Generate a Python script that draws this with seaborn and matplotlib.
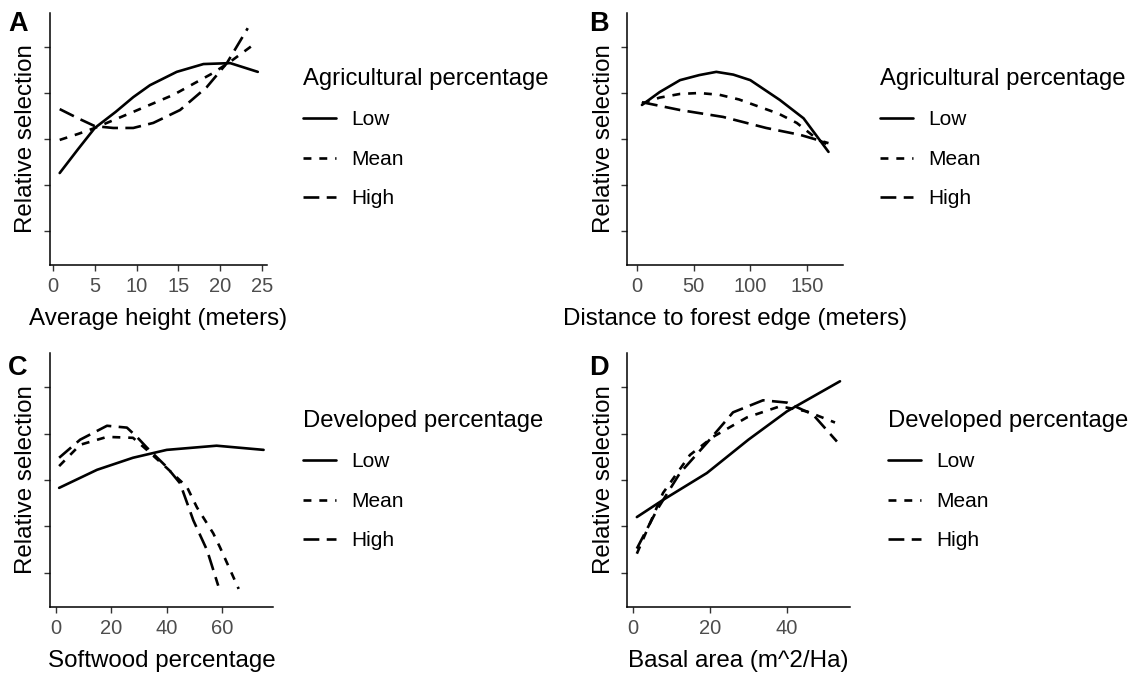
import matplotlib
matplotlib.use("Agg")
import matplotlib.pyplot as plt
import pandas as pd
import seaborn as sns

# panel A: average height (meters)
a_low_x = [0.8, 3, 5.0, 7.5, 9.6, 11.6, 14.8, 18, 21.2, 24.5]
a_low_y = [1.26, 1.78, 2.24, 2.59, 2.91, 3.17, 3.46, 3.63, 3.65, 3.46]
a_mean_x = [0.8, 3, 5, 9.6, 14.4, 19.1, 21.2, 24.2]
a_mean_y = [1.98, 2.11, 2.24, 2.59, 2.96, 3.43, 3.68, 4.08]
a_high_x = [0.8, 3, 5, 7.2, 9.6, 12, 15.2, 18.4, 20.8, 23.3]
a_high_y = [2.65, 2.45, 2.28, 2.24, 2.24, 2.35, 2.63, 3.13, 3.65, 4.41]

# panel B: distance to forest edge (meters)
b_low_x = [4.4, 20, 38, 55, 70, 85, 100, 126, 147, 169]
b_low_y = [2.74, 3.02, 3.28, 3.39, 3.46, 3.40, 3.28, 2.85, 2.45, 1.72]
b_mean_x = [4.4, 20, 38, 55, 73, 90, 108, 125, 141, 160, 169]
b_mean_y = [2.77, 2.90, 2.98, 3.00, 2.96, 2.86, 2.70, 2.55, 2.35, 1.98, 1.87]
b_high_x = [4.4, 38, 76, 114, 144, 169]
b_high_y = [2.80, 2.63, 2.48, 2.24, 2.09, 1.91]

# panel C: softwood percentage
c_low_x = [1.1, 14.8, 27.8, 40, 58, 75]
c_low_y = [1.83, 2.22, 2.48, 2.65, 2.74, 2.65]
c_mean_x = [1.1, 8.7, 18.4, 27.8, 32.8, 40, 47.3, 50.9, 56.8, 59.3, 66]
c_mean_y = [2.30, 2.76, 2.93, 2.91, 2.65, 2.26, 1.85, 1.41, 0.85, 0.54, -0.35]
c_high_x = [1.1, 8.7, 18.4, 25.6, 29.2, 32.8, 40, 44.8, 49.6, 54.6, 58.6]
c_high_y = [2.48, 2.87, 3.17, 3.13, 2.93, 2.70, 2.28, 1.93, 1.13, 0.48, -0.28]

# panel D: basal area (m^2/Ha)
d_low_x = [1.0, 7.8, 19.2, 30, 40, 53.8]
d_low_y = [1.20, 1.57, 2.15, 2.87, 3.48, 4.13]
d_mean_x = [1.0, 3.6, 7.8, 14.8, 20.8, 29.6, 38.2, 45.2, 52.5]
d_mean_y = [0.41, 0.91, 1.72, 2.54, 2.93, 3.35, 3.59, 3.48, 3.24]
d_high_x = [1.0, 6.2, 12.2, 19.2, 26, 33.8, 40, 46.8, 53]
d_high_y = [0.52, 1.35, 2.15, 2.80, 3.46, 3.72, 3.67, 3.41, 2.83]

levels = ["Low", "Mean", "High"]

panels = [
    ("A", "Average height (meters)", "Agricultural percentage",
     [(a_low_x, a_low_y), (a_mean_x, a_mean_y), (a_high_x, a_high_y)],
     [0, 5, 10, 15, 20, 25], (-0.36, 25.6)),
    ("B", "Distance to forest edge (meters)", "Agricultural percentage",
     [(b_low_x, b_low_y), (b_mean_x, b_mean_y), (b_high_x, b_high_y)],
     [0, 50, 100, 150], (-8.8, 181.8)),
    ("C", "Softwood percentage", "Developed percentage",
     [(c_low_x, c_low_y), (c_mean_x, c_mean_y), (c_high_x, c_high_y)],
     [0, 20, 40, 60], (-2.2, 78.4)),
    ("D", "Basal area (m^2/Ha)", "Developed percentage",
     [(d_low_x, d_low_y), (d_mean_x, d_mean_y), (d_high_x, d_high_y)],
     [0, 20, 40], (-1.56, 56.4)),
]

# pixel boxes (left, top, right, bottom) and legend anchors
axes_px = [(50, 13, 267, 265), (627, 13, 843, 265), (50, 353, 273, 607), (627, 353, 850, 607)]
legend_px = [(303, 68), (880, 68), (303, 410), (888, 410)]
label_px = [(8, 11), (589, 11), (8, 355), (589, 355)]

W, H = 1136, 675

sns.set_theme(style="ticks")
plt.rcParams["font.family"] = ["Liberation Sans", "DejaVu Sans"]
plt.rcParams["text.color"] = "black"
plt.rcParams["axes.labelcolor"] = "black"

fig = plt.figure(figsize=(W / 100, H / 100), dpi=100)

dash_map = {"Low": "", "Mean": (3, 3), "High": (6, 2.8)}

for (tag, xlabel, leg_title, series, xticks, xlim), box, lpos, tpos in zip(
        panels, axes_px, legend_px, label_px):
    l, t, r, b = box
    ax = fig.add_axes([l / W, 1 - b / H, (r - l) / W, (b - t) / H])

    frames = []
    for lev, (xs, ys) in zip(levels, series):
        frames.append(pd.DataFrame({"x": xs, "y": ys, "level": lev}))
    df = pd.concat(frames, ignore_index=True)

    sns.lineplot(data=df, x="x", y="y", style="level", style_order=levels,
                 dashes=dash_map, color="black", linewidth=1.9,
                 estimator=None, sort=False, ax=ax)

    leg = ax.get_legend()
    handles = leg.legend_handles
    labels = [txt.get_text() for txt in leg.get_texts()]
    leg.remove()
    for h in handles:
        h.set_color("black")
        h.set_linewidth(1.9)
    ax.legend(handles, labels, title=leg_title, loc="upper left",
              bbox_to_anchor=(lpos[0] / W, 1 - lpos[1] / H),
              bbox_transform=fig.transFigure, frameon=False,
              borderpad=0, borderaxespad=0, alignment="left",
              fontsize=15, title_fontsize=17.2, labelspacing=0.98,
              handlelength=1.6, handletextpad=0.72)

    ax.set_xlim(*xlim)
    ax.set_ylim(-0.74, 4.74)
    ax.set_xticks(xticks)
    ax.set_yticks([0, 1, 2, 3, 4])
    ax.set_yticklabels([])
    ax.tick_params(axis="both", direction="out", length=4.5, width=1.0,
                   color="#333333", labelcolor="#4D4D4D", labelsize=14.5, pad=4.5)
    sns.despine(ax=ax)
    for side in ["left", "bottom"]:
        ax.spines[side].set_color("black")
        ax.spines[side].set_linewidth(1.1)

    ax.set_xlabel(xlabel, fontsize=17.4, labelpad=8.5)
    ax.set_ylabel("Relative selection", fontsize=17.4, labelpad=0)

    fig.text(tpos[0] / W, 1 - tpos[1] / H, tag, fontsize=19.5, fontweight="bold",
             va="top", ha="left")

fig.savefig("out.png", dpi=100)
